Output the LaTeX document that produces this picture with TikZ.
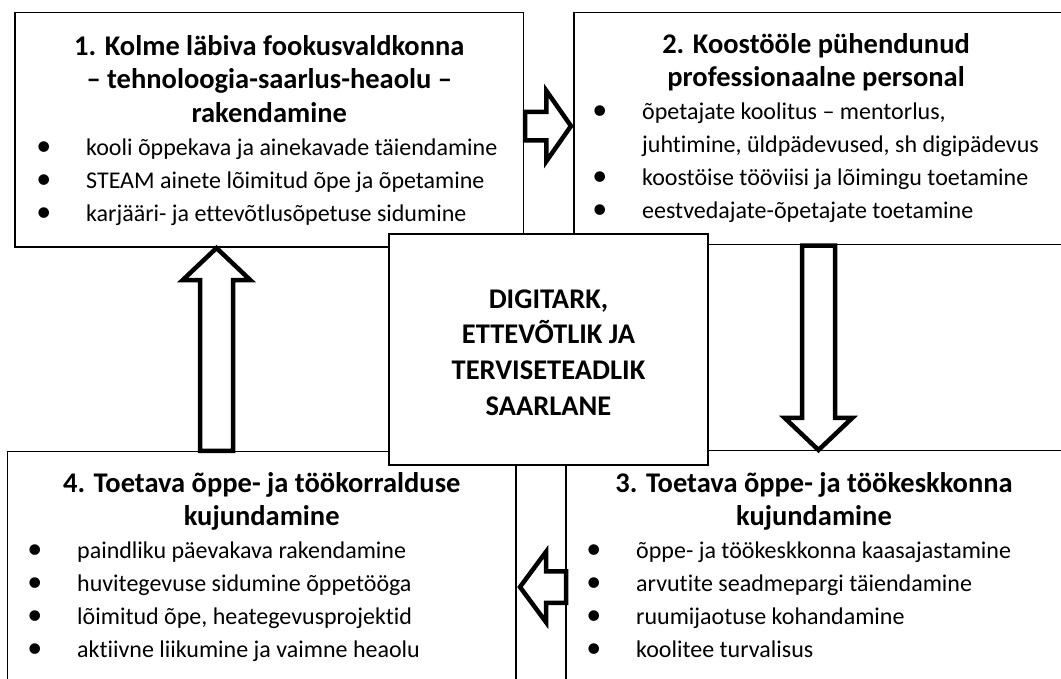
\documentclass[tikz,border=0pt]{standalone}
\usepackage{fontspec}
\setmainfont{Carlito}[Ligatures=NoCommon]
\usetikzlibrary{shapes.arrows}

\newcommand{\bul}{\rule{0pt}{22pt}\llap{{\fontsize{30}{30}\selectfont\textbullet}\hspace{35pt}}}
\newcommand{\hstr}{\rule{0pt}{24pt}}

\tikzset{
  box/.style={draw, line width=1.3pt, inner sep=0pt, outer sep=0pt},
  heading/.style={anchor=north, inner sep=0pt, align=center, font=\bfseries\fontsize{28.5}{33.5}\selectfont},
  items/.style={anchor=north west, inner sep=0pt, align=left, font=\fontsize{24}{33}\selectfont},
  blockarrow/.style={single arrow, draw, fill=white, line width=4.5pt, line join=miter, inner xsep=0pt, outer sep=0pt, minimum width=0pt, anchor=tip}
}

\begin{document}
\begin{tikzpicture}[x=1pt,y=-1pt]
\useasboundingbox (0,0) rectangle (1061,678);
\clip (0,0) rectangle (1061,678);

% the four fields
\node[box, minimum width=508.5pt, minimum height=234.5pt] (b1) at (269.25,129.75) {};
\node[box, minimum width=496pt, minimum height=232pt] (b2) at (822,128.5) {};
\node[box, minimum width=504pt, minimum height=239.5pt] (b3) at (818,570.25) {};
\node[box, minimum width=508.5pt, minimum height=238.5pt] (b4) at (261.75,570.75) {};

\node[heading] (h1) at (269.25,31) {\hstr 1. Kolme läbiva fookusvaldkonna\\– tehnoloogia-saarlus-heaolu –\\rakendamine};
\node[items] (l1) at (86,133) {\bul kooli õppekava ja ainekavade täiendamine\\\bul STEAM ainete lõimitud õpe ja õpetamine\\\bul karjääri- ja ettevõtlusõpetuse sidumine};

\node[heading] (h2) at (816,29) {\hstr 2. Koostööle pühendunud\\professionaalne personal};
\node[items] (l2) at (642,97) {\bul õpetajate koolitus – mentorlus,\\juhtimine, üldpädevused, sh digipädevus\\\bul koostöise tööviisi ja lõimingu toetamine\\\bul eestvedajate-õpetajate toetamine};

\node[heading] (h3) at (814,468) {\hstr 3. Toetava õppe- ja töökeskkonna\\kujundamine};
\node[items] (l3) at (636,536) {\bul õppe- ja töökeskkonna kaasajastamine\\\bul arvutite seadmepargi täiendamine\\\bul ruumijaotuse kohandamine\\\bul koolitee turvalisus};

\node[heading] (h4) at (261.75,468) {\hstr 4. Toetava õppe- ja töökorralduse\\kujundamine};
\node[items] (l4) at (77,536) {\bul paindliku päevakava rakendamine\\\bul huvitegevuse sidumine õppetööga\\\bul lõimitud õpe, heategevusprojektid\\\bul aktiivne liikumine ja vaimne heaolu};

% the centre
\node[box, fill=white, minimum width=319pt, minimum height=231pt] (c0) at (548.5,349.5) {};
\node[heading, font=\bfseries\fontsize{28.5}{35.7}\selectfont] (c1) at (548.5,282) {\rule{0pt}{26pt}DIGITARK,\\ETTEVÕTLIK JA\\TERVISETEADLIK\\SAARLANE};

% arrows between the fields
\node[blockarrow, rotate=0, minimum height=46pt, inner ysep=12pt, single arrow head extend=21pt, single arrow tip angle=110] (a12) at (571,126) {};
\node[blockarrow, rotate=-90, minimum height=204.5pt, inner ysep=14.25pt, single arrow head extend=17.25pt, single arrow tip angle=93] (a23) at (818.5,450) {};
\node[blockarrow, rotate=180, minimum height=46pt, inner ysep=13.5pt, single arrow head extend=19.5pt, single arrow tip angle=107] (a34) at (520,587) {};
\node[blockarrow, rotate=90, minimum height=202.75pt, inner ysep=14.25pt, single arrow head extend=17.25pt, single arrow tip angle=93] (a41) at (216.5,248) {};
\end{tikzpicture}
\end{document}
